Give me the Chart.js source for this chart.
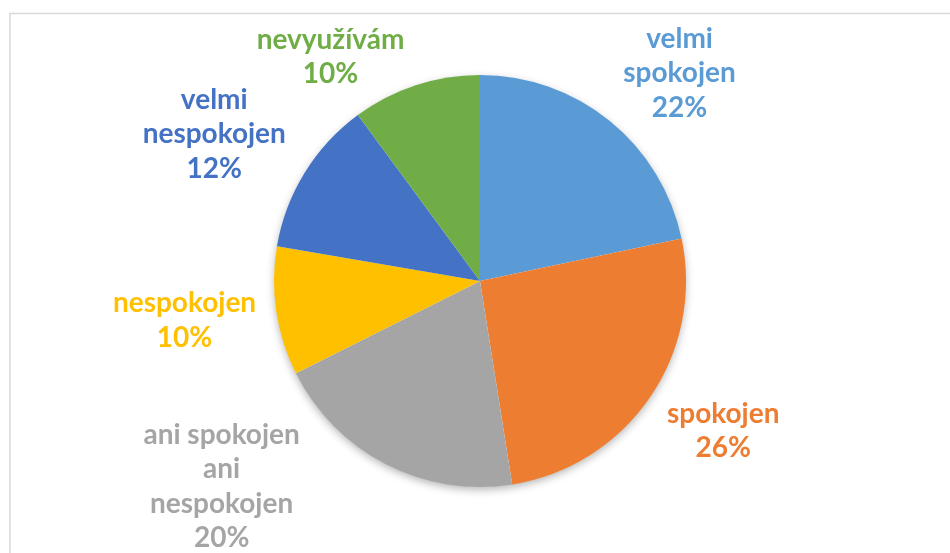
<!DOCTYPE html>
<html><head><meta charset="utf-8">
<script src="https://cdn.jsdelivr.net/npm/chart.js@4/dist/chart.umd.min.js"></script>
<style>html,body{margin:0;padding:0;background:#fff;overflow:hidden}</style>
</head><body>
<canvas id="c" width="950" height="553"></canvas>
<script>
const categories = ['velmi spokojen', 'spokojen', 'ani spokojen ani nespokojen', 'nespokojen', 'velmi nespokojen', 'nevyužívám'];
const labelLines = [['velmi', 'spokojen'], ['spokojen'], ['ani spokojen', 'ani', 'nespokojen'], ['nespokojen'], ['velmi', 'nespokojen'], ['nevyužívám']];
const values = [21.7, 25.8, 20.1, 10.1, 12.2, 10.1];
const colors = ['#5B9BD5', '#ED7D31', '#A5A5A5', '#FFC000', '#4472C4', '#70AD47'];
// label nudges (layout only, relative to the arc's outside-end anchor)
const labelNudge = [[28, 0], [19, 8], [-124, -48], [-11, 2.5], [-21, -6], [-59, 14]];

const FONT = 'bold 28px Lato';
const LINE_H = 34.5;
const GAP = 10;

const framePlugin = {
  id: 'frame',
  beforeDraw(chart) {
    const ctx = chart.ctx;
    ctx.save();
    ctx.fillStyle = '#fff';
    ctx.fillRect(0, 0, chart.width, chart.height);
    ctx.strokeStyle = '#d9d9d9';
    ctx.lineWidth = 1.5;
    ctx.strokeRect(10, 13.5, chart.width + 20, chart.height + 20);
    ctx.restore();
  }
};

const shadowPlugin = {
  id: 'pieShadow',
  beforeDatasetsDraw(chart) {
    const meta = chart.getDatasetMeta(0);
    if (!meta.data.length) return;
    const el = meta.data[0];
    const ctx = chart.ctx;
    ctx.save();
    ctx.shadowColor = 'rgba(0,0,0,0.3)';
    ctx.shadowBlur = 9;
    ctx.shadowOffsetX = 0;
    ctx.shadowOffsetY = 3;
    ctx.fillStyle = '#fff';
    ctx.beginPath();
    ctx.arc(el.x, el.y, el.outerRadius - 0.5, 0, Math.PI * 2);
    ctx.fill();
    ctx.restore();
  }
};

const labelPlugin = {
  id: 'outsideLabels',
  afterDatasetsDraw(chart) {
    const meta = chart.getDatasetMeta(0);
    const ctx = chart.ctx;
    const total = values.reduce((a, b) => a + b, 0);
    ctx.save();
    ctx.font = FONT;
    ctx.textAlign = 'center';
    ctx.textBaseline = 'middle';
    meta.data.forEach((el, i) => {
      const p = el.getProps(['x', 'y', 'startAngle', 'endAngle', 'outerRadius'], true);
      const mid = (p.startAngle + p.endAngle) / 2;
      const c = Math.cos(mid), s = Math.sin(mid);
      const lines = labelLines[i].concat([Math.round(values[i] / total * 100) + '%']);
      const w = Math.max(...lines.map(t => ctx.measureText(t).width));
      const h = lines.length * LINE_H;
      const ax = p.x + c * (p.outerRadius + GAP);
      const ay = p.y + s * (p.outerRadius + GAP);
      const cx = ax + c * w / 2 + labelNudge[i][0];
      const cy = ay + s * h / 2 + labelNudge[i][1];
      ctx.fillStyle = colors[i];
      lines.forEach((t, k) => {
        ctx.fillText(t, cx, cy - h / 2 + LINE_H * (k + 0.5));
      });
    });
    ctx.restore();
  }
};

function draw() {
  new Chart(document.getElementById('c'), {
    type: 'pie',
    data: {
      labels: categories,
      datasets: [{
        data: values,
        backgroundColor: colors,
        borderWidth: 0
      }]
    },
    options: {
      responsive: false,
      animation: false,
      layout: { padding: { top: 75, bottom: 66, left: 10, right: 0 } },
      plugins: { legend: { display: false }, tooltip: { enabled: false } }
    },
    plugins: [framePlugin, shadowPlugin, labelPlugin]
  });
}
if (document.fonts && document.fonts.load) {
  document.fonts.load(FONT).then(draw, draw);
} else { draw(); }
</script>
</body></html>
